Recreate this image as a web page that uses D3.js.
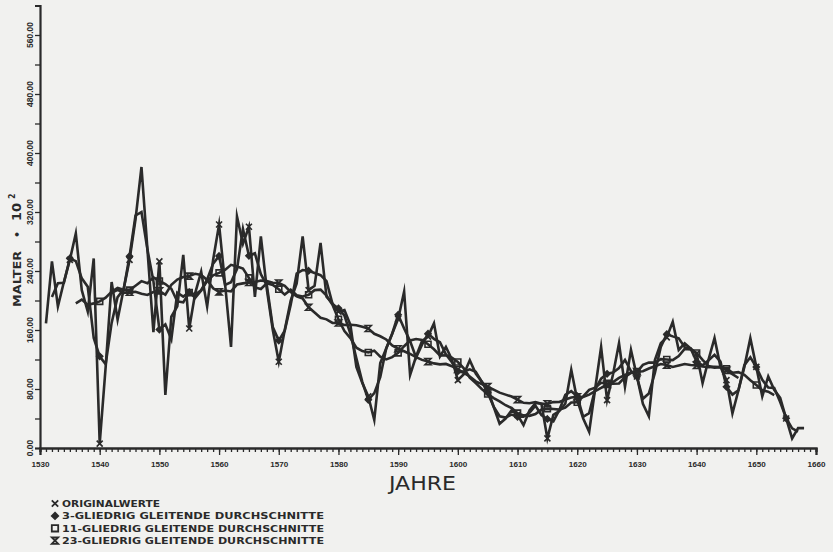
<!DOCTYPE html>
<html><head><meta charset="utf-8">
<script src="https://cdn.jsdelivr.net/npm/d3@7"></script>
<style>
html,body{margin:0;padding:0;background:#f1f1ef;}
svg{display:block;font-family:"DejaVu Sans",sans-serif;}
</style></head><body>
<svg id="chart" width="833" height="552"></svg>
<script>
// Annual harvest in Malter (x 100), 1531 onwards
const startYear = 1531;
const malter = [
  169,253,192,225,255,291,214,185,257,6,
  110,225,174,215,255,310,381,269,157,253,
  72,178,192,262,162,210,239,192,255,303,
  223,137,314,277,300,205,287,215,160,117,
  160,200,223,287,214,220,278,205,196,185,
  187,167,110,88,70,38,115,135,155,175,
  212,99,124,145,151,169,124,137,120,92,
  100,119,101,90,79,56,33,40,51,45,
  31,51,61,60,13,45,50,60,106,65,
  40,22,80,137,65,100,142,83,133,97,
  60,43,119,142,150,171,133,142,135,128,
  88,120,149,110,92,47,78,110,149,110,
  70,97,79,68,40,13,27,27
];
const windows = [1, 3, 11, 23];
const legendLabels = [
  "ORIGINALWERTE",
  "3-GLIEDRIG GLEITENDE DURCHSCHNITTE",
  "11-GLIEDRIG GLEITENDE DURCHSCHNITTE",
  "23-GLIEDRIG GLEITENDE DURCHSCHNITTE"
];
const markerKinds = ["x", "diamond", "square", "hourglass"];
const xDecades = d3.range(1530, 1661, 10);
const xYears = d3.range(1530, 1661, 1);
const yLabelValues = d3.range(0, 561, 80);
const yTickValues = d3.range(0, 601, 40);

const ink = "#2a2a2a";
const svg = d3.select("#chart");
const x = d3.scaleLinear().domain([1530, 1660]).range([40, 816]);
const y = d3.scaleLinear().domain([0, 600]).range([448, 5.5]);

const years = malter.map((_, i) => startYear + i);

// centred moving average over an odd window
function movingAverage(vals, w) {
  const h = (w - 1) / 2, out = [];
  for (let i = h; i < vals.length - h; i++) {
    out.push({ year: years[i], value: d3.mean(vals.slice(i - h, i + h + 1)) });
  }
  return out;
}
const series = windows.map(w => movingAverage(malter, w));

// x axis: yearly ticks, longer ticks with labels every decade
const gx = svg.append("g").attr("transform", `translate(0,${y(0)})`);
gx.call(d3.axisBottom(x).tickValues(xYears).tickSize(4).tickFormat(""));
gx.append("g").call(d3.axisBottom(x).tickValues(xDecades).tickSize(7).tickFormat(d3.format("d")));
gx.selectAll("path.domain").attr("stroke", ink).attr("stroke-width", 2.2);
gx.selectAll("line").attr("stroke", ink).attr("stroke-width", 1.3);
gx.selectAll("text").attr("fill", ink).attr("font-size", 7).attr("font-weight", "bold")
  .attr("y", 17).attr("dy", "0.32em").attr("textLength", 18).attr("lengthAdjust", "spacingAndGlyphs");

// y axis: ticks every 40, rotated labels every 80
const gy = svg.append("g").attr("transform", `translate(${x(1530)},0)`);
gy.call(d3.axisLeft(y).tickValues(yTickValues).tickSize(5).tickFormat(""));
gy.selectAll("path.domain").attr("stroke", ink).attr("stroke-width", 2.2);
gy.selectAll("line").attr("stroke", ink).attr("stroke-width", 1.3);
gy.selectAll(".ylab").data(yLabelValues).join("text")
  .attr("class", "ylab")
  .attr("transform", d => `translate(-7,${y(d)}) rotate(-90)`)
  .attr("text-anchor", "middle")
  .attr("fill", ink).attr("font-size", 8.5).attr("font-weight", "bold")
  .text(d3.format(".2f"));

// axis titles
svg.append("text").attr("x", 389).attr("y", 490)
  .attr("font-size", 20).attr("fill", ink).attr("textLength", 67)
  .attr("lengthAdjust", "spacingAndGlyphs").text("JAHRE");
const ytitle = svg.append("g").attr("fill", ink).attr("font-weight", "bold");
ytitle.append("text").attr("transform", "translate(21,307) rotate(-90)")
  .attr("font-size", 11).attr("textLength", 56).attr("lengthAdjust", "spacingAndGlyphs").text("MALTER");
ytitle.append("text").attr("transform", "translate(21,238) rotate(-90)")
  .attr("font-size", 11).text("\u2022");
ytitle.append("text").attr("transform", "translate(21,221) rotate(-90)")
  .attr("font-size", 12).attr("textLength", 18).attr("lengthAdjust", "spacingAndGlyphs").text("10");
ytitle.append("text").attr("transform", "translate(15,199) rotate(-90)")
  .attr("font-size", 8).text("2");

// marker shapes
function markerPath(kind, s) {
  switch (kind) {
    case "x": return `M${-s},${-s}L${s},${s}M${-s},${s}L${s},${-s}`;
    case "diamond": return `M0,${-s}L${s},0L0,${s}L${-s},0Z`;
    case "square": return `M${-s},${-s}H${s}V${s}H${-s}Z`;
    case "hourglass": return `M${-s},${-s}H${s}L${-s},${s}H${s}Z`;
  }
}

const line = d3.line().x(d => x(d.year)).y(d => y(d.value));
const plot = svg.append("g");
series.forEach(s => {
  plot.append("path").datum(s).attr("d", line)
    .attr("fill", "none").attr("stroke", ink).attr("stroke-width", 2.6)
    .attr("stroke-linejoin", "miter").attr("stroke-miterlimit", 8);
});
series.forEach((s, k) => {
  const kind = markerKinds[k];
  plot.selectAll(`.m${k}`).data(s.filter(d => d.year % 5 === 0)).join("path")
    .attr("class", `m${k}`)
    .attr("transform", d => `translate(${x(d.year)},${y(d.value)})`)
    .attr("d", markerPath(kind, 3))
    .attr("fill", kind === "diamond" ? ink : "none")
    .attr("stroke", ink).attr("stroke-width", 1.6);
});

// legend
const leg = svg.append("g");
legendLabels.forEach((lab, i) => {
  const by = 507 + i * 12.4;
  leg.append("path").attr("transform", `translate(55,${by - 3.5})`)
    .attr("d", markerPath(markerKinds[i], 3.2))
    .attr("fill", markerKinds[i] === "diamond" ? ink : "none")
    .attr("stroke", ink).attr("stroke-width", 1.8);
  leg.append("text").attr("x", 62).attr("y", by)
    .attr("font-size", 9.5).attr("font-weight", "bold").attr("fill", ink)
    .attr("textLength", i === 0 ? 98 : 262).attr("lengthAdjust", "spacingAndGlyphs")
    .text(lab);
});
</script>
</body></html>
